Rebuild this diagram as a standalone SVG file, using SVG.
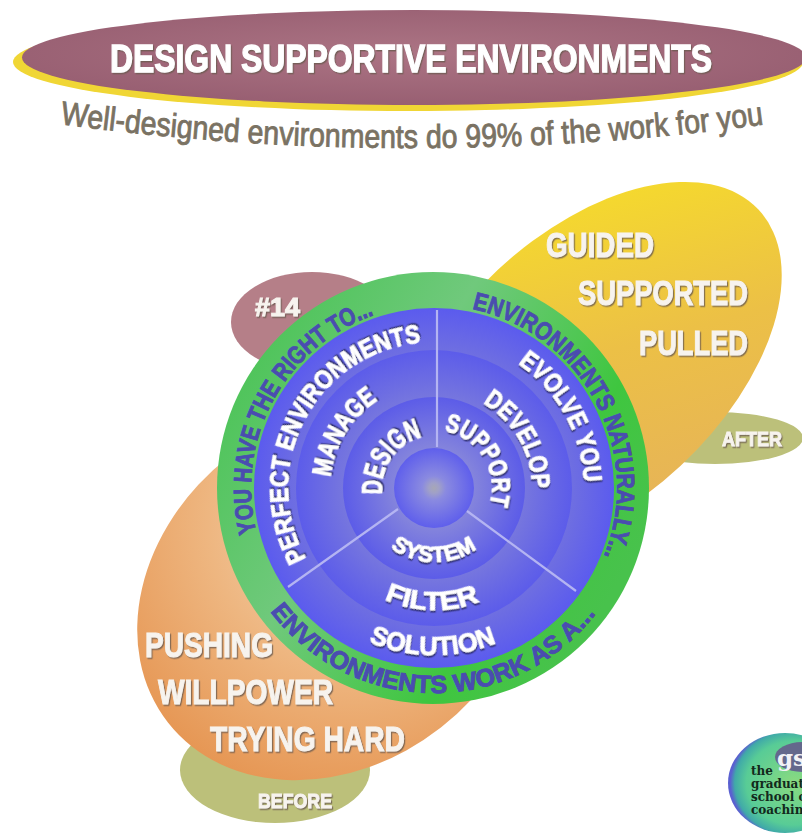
<svg xmlns="http://www.w3.org/2000/svg" xmlns:xlink="http://www.w3.org/1999/xlink" width="802" height="839" viewBox="0 0 802 839">
<style>
text{font-family:"Liberation Sans Narrow","Liberation Sans",Arial,sans-serif;font-weight:700}
.w{fill:#fff;stroke:#fff;stroke-width:.9;filter:url(#sh)}
.g{fill:#f7f3ee;stroke:#f7f3ee;stroke-width:1;filter:url(#sh2)}
.b{fill:#4a4cb0;stroke:#4a4cb0;stroke-width:.9;font-size:25px}
.r{font-size:26px}
.big{font-size:35px}
.spoke{stroke:#b4b4f2;stroke-width:2.2;fill:none}
.logo{font-family:"DejaVu Serif","Liberation Serif",serif;font-size:12px;fill:#12291c;font-weight:700}
</style>
<defs>
<filter id="sh" x="-20%" y="-30%" width="140%" height="160%"><feDropShadow dx="1.2" dy="1.6" stdDeviation=".5" flood-color="#2a2a66" flood-opacity=".9"/></filter>
<filter id="sh2" x="-20%" y="-30%" width="140%" height="160%"><feDropShadow dx="1.2" dy="1.4" stdDeviation=".7" flood-color="#6a5a50" flood-opacity=".8"/></filter>
<radialGradient id="mv" cx=".5" cy=".45" r=".55"><stop offset="0" stop-color="#ac7484"/><stop offset="1" stop-color="#985f72"/></radialGradient>
<linearGradient id="yl" x1="0" y1="1" x2=".9" y2="0"><stop offset="0" stop-color="#e4ae60"/><stop offset=".55" stop-color="#ecc046"/><stop offset="1" stop-color="#f7df28"/></linearGradient>
<radialGradient id="or" gradientUnits="userSpaceOnUse" cx="390" cy="550" r="290"><stop offset="0" stop-color="#f3d9bb"/><stop offset=".5" stop-color="#eeb680"/><stop offset="1" stop-color="#e5934f"/></radialGradient>
<linearGradient id="gr" x1="0" y1="0" x2="1" y2=".6"><stop offset="0" stop-color="#3fc24a"/><stop offset=".45" stop-color="#70c97c"/><stop offset=".8" stop-color="#3fc63f"/><stop offset="1" stop-color="#48c24c"/></linearGradient>
<radialGradient id="r1"><stop offset=".75" stop-color="#7070e0"/><stop offset="1" stop-color="#5b5bee"/></radialGradient>
<radialGradient id="r2"><stop offset=".66" stop-color="#7676de"/><stop offset="1" stop-color="#5c5cea"/></radialGradient>
<radialGradient id="r3"><stop offset=".44" stop-color="#8484dc"/><stop offset="1" stop-color="#5c5ce8"/></radialGradient>
<radialGradient id="r4"><stop offset="0" stop-color="#a7a7b6"/><stop offset=".13" stop-color="#a0a0c8"/><stop offset=".3" stop-color="#8a8ae0"/><stop offset="1" stop-color="#5f5fec"/></radialGradient>
<radialGradient id="lg" cx=".58" cy=".5" r=".56"><stop offset="0" stop-color="#8ada80"/><stop offset=".75" stop-color="#58cc96"/><stop offset=".93" stop-color="#40aaa8"/><stop offset="1" stop-color="#5a60d0"/></radialGradient>
<path id="c183" d="M434 305A183 183 0 1 1 434 671A183 183 0 1 1 434 305"/>
<path id="c146" d="M434 342A146 146 0 1 1 434 634A146 146 0 1 1 434 342"/>
<path id="c104" d="M434 384A104 104 0 1 1 434 592A104 104 0 1 1 434 384"/>
<path id="c52" d="M434 436A52 52 0 1 1 434 540A52 52 0 1 1 434 436"/>
<path id="c58" d="M434 430A58 58 0 1 1 434 546A58 58 0 1 1 434 430"/>
<path id="c98" d="M434 390A98 98 0 1 1 434 586A98 98 0 1 1 434 390"/>
<path id="c150" d="M434 338A150 150 0 1 1 434 638A150 150 0 1 1 434 338"/>
<path id="u205" d="M434 693A205 205 0 1 0 434 283A205 205 0 1 0 434 693"/>
<path id="u74" d="M434 562A74 74 0 1 0 434 414A74 74 0 1 0 434 562"/>
<path id="u122" d="M434 610A122 122 0 1 0 434 366A122 122 0 1 0 434 610"/>
<path id="u167" d="M434 655A167 167 0 1 0 434 321A167 167 0 1 0 434 655"/>
<path id="sub" d="M60 124Q412 172 768 124"/>
</defs>

<g id="title">
<ellipse cx="408" cy="62" rx="395" ry="49" fill="#f0d635"/>
<ellipse cx="414" cy="57.500" rx="392" ry="47.500" fill="url(#mv)"/>
<text x="110" y="72" font-size="38" textLength="602" lengthAdjust="spacingAndGlyphs" class="g" style="stroke:#fff;fill:#fff;stroke-width:1.300">DESIGN SUPPORTIVE ENVIRONMENTS</text>
</g>
<g id="subtitle">
<text font-size="33" fill="#7a7263" style="font-weight:400" stroke="#7a7263" stroke-width=".9"><textPath href="#sub" textLength="706" lengthAdjust="spacingAndGlyphs">Well-designed environments do 99% of the work for you</textPath></text>
</g>

<g id="node-14">
<ellipse cx="312" cy="322" rx="81" ry="50" fill="#b57f88"/>
<text x="255" y="316" font-size="25" textLength="45" lengthAdjust="spacingAndGlyphs" class="g">#14</text>
</g>
<g id="after">
<ellipse cx="715" cy="438" rx="88" ry="26" fill="#bcc07a"/>
<text x="722" y="446" font-size="21" textLength="60" lengthAdjust="spacingAndGlyphs" class="g">AFTER</text>
</g>
<g id="before">
<ellipse cx="275" cy="770" rx="95" ry="53" fill="#bcc07a"/>
<text x="258" y="808" font-size="21" textLength="74" lengthAdjust="spacingAndGlyphs" class="g">BEFORE</text>
</g>
<g id="after-blob">
<ellipse cx="589" cy="368" rx="232" ry="134" transform="rotate(-43 589 368)" fill="url(#yl)"/>
<text x="546" y="257" textLength="108" lengthAdjust="spacingAndGlyphs" class="g big">GUIDED</text>
<text x="578" y="305" textLength="170" lengthAdjust="spacingAndGlyphs" class="g big">SUPPORTED</text>
<text x="639" y="355" textLength="109" lengthAdjust="spacingAndGlyphs" class="g big">PULLED</text>
</g>
<g id="before-blob">
<ellipse cx="335" cy="592" rx="212" ry="172" transform="rotate(-38 335 592)" fill="url(#or)"/>
<text x="145" y="657" textLength="128" lengthAdjust="spacingAndGlyphs" class="g big">PUSHING</text>
<text x="158" y="704" textLength="175" lengthAdjust="spacingAndGlyphs" class="g big">WILLPOWER</text>
<text x="210" y="751" textLength="195" lengthAdjust="spacingAndGlyphs" class="g big">TRYING HARD</text>
</g>

<g id="wheel">
<circle cx="433" cy="488" r="216" fill="url(#gr)"/>
<circle cx="434" cy="488" r="180" fill="url(#r1)"/>
<circle cx="434" cy="488" r="138" fill="url(#r2)"/>
<circle cx="434" cy="488" r="91" fill="url(#r3)"/>
<circle cx="434" cy="488" r="40" fill="url(#r4)"/>
</g>
<g id="connectors">
<path class="spoke" d="M437 310V447"/>
<path class="spoke" d="M398 509L288 587"/>
<path class="spoke" d="M467 511L576 591"/>
</g>
<g id="ring-labels">
<text class="b" transform="rotate(-104 434 488)"><textPath href="#c183" textLength="271" lengthAdjust="spacingAndGlyphs">YOU HAVE THE RIGHT TO...</textPath></text>
<text class="b" transform="rotate(12 434 488)"><textPath href="#c183" textLength="319" lengthAdjust="spacingAndGlyphs">ENVIRONMENTS NATURALLY...</textPath></text>
<text class="b" transform="rotate(53 434 488)"><textPath href="#u205" textLength="376" lengthAdjust="spacingAndGlyphs">ENVIRONMENTS WORK AS A...</textPath></text>
</g>
<g id="perfect-environments">
<text class="w r" transform="rotate(-119 434 488)"><textPath href="#c146" textLength="290" lengthAdjust="spacingAndGlyphs">PERFECT ENVIRONMENTS</textPath></text>
<text class="w" font-size="27" transform="rotate(-84 434 488)"><textPath href="#c104" textLength="93" lengthAdjust="spacingAndGlyphs">MANAGE</textPath></text>
<text class="w" font-size="29" transform="rotate(-97 434 488)"><textPath href="#c52" textLength="76" lengthAdjust="spacingAndGlyphs">DESIGN</textPath></text>
</g>
<g id="evolve-you">
<text class="w r" transform="rotate(10 434 488)"><textPath href="#c58" textLength="98" lengthAdjust="spacingAndGlyphs">SUPPORT</textPath></text>
<text class="w r" transform="rotate(30 434 488)"><textPath href="#c98" textLength="103" lengthAdjust="spacingAndGlyphs">DEVELOP</textPath></text>
<text class="w r" transform="rotate(34 434 488)"><textPath href="#c150" textLength="141" lengthAdjust="spacingAndGlyphs">EVOLVE YOU</textPath></text>
</g>
<g id="solution">
<text class="w" font-size="22" transform="rotate(36 434 488)"><textPath href="#u74" textLength="92" lengthAdjust="spacingAndGlyphs">SYSTEM</textPath></text>
<text class="w" font-size="26" transform="rotate(24 434 488)"><textPath href="#u122" textLength="98" lengthAdjust="spacingAndGlyphs">FILTER</textPath></text>
<text class="w" font-size="26" transform="rotate(23 434 488)"><textPath href="#u167" textLength="131" lengthAdjust="spacingAndGlyphs">SOLUTION</textPath></text>
</g>

<g id="logo">
<ellipse cx="785" cy="783" rx="57" ry="50" fill="url(#lg)"/>
<ellipse cx="802" cy="757" rx="27" ry="15" fill="#64688c"/>
<text x="777" y="766" style="font-family:'DejaVu Serif',serif;font-size:23px;fill:#f2f2f6">gs</text>
<text class="logo" x="751" y="775">the</text>
<text class="logo" x="751" y="788">graduate</text>
<text class="logo" x="751" y="801">school of</text>
<text class="logo" x="751" y="814">coaching</text>
</g>
</svg>
